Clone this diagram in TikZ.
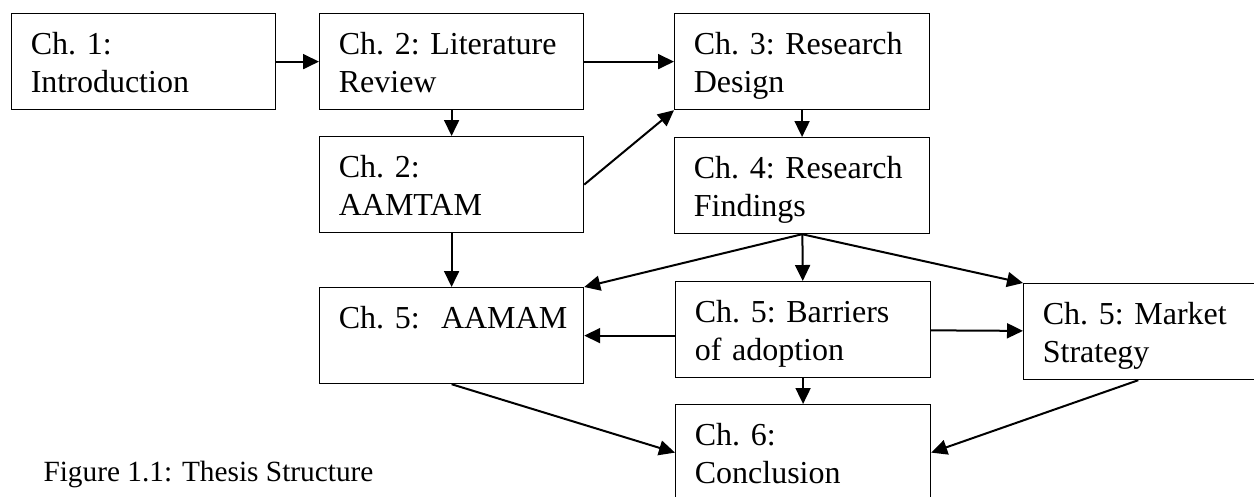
\documentclass[tikz,border=0pt]{standalone}
\usepackage{fontspec}
\setmainfont{Liberation Serif}
\usetikzlibrary{
  arrows.meta,
  calc,
  positioning,
}

\begin{document}
\begin{tikzpicture}[x=.375pt,y=-.375pt,
  font=\fontsize{12}{14.2}\selectfont\frenchspacing,
  >={Triangle[length=6pt,width=5.6pt]},
  chap/.style={draw,line width=.45pt,anchor=north west,align=left,
    inner xsep=7.2pt,inner ysep=0pt,text height=15.2pt,text depth=20.8pt},
  wide/.style={chap,text width=84.6pt},
  slim/.style={chap,text width=81.2pt},
  link/.style={->,line width=.75pt},
  capt/.style={anchor=base west,inner sep=0pt,
    font=\fontsize{11}{13}\selectfont}]
  \useasboundingbox (0,0) rectangle (1254,496);
  %%
  \node[wide](intro) at (11,13) {Ch. 1:\\Introduction};
  \node[wide](litrev) at (319,13) {Ch. 2: Literature\\Review};
  \node[wide](aamtam) at (319,136) {Ch. 2:\\AAMTAM};
  \node[slim](design) at (674,13) {Ch. 3: Research\\Design};
  \node[slim](findings) at (674,137) {Ch. 4: Research\\Findings};
  \node[wide](aamam) at (319,287) {\mbox{Ch. 5: \ AAMAM}};
  \node[slim](barriers) at (675,281) {Ch. 5: Barriers\\of adoption};
  \node[slim](market) at (1023,283) {Ch. 5: Market\\Strategy};
  \node[slim](concl) at (675,404) {Ch. 6:\\Conclusion};
  \node[capt](caption) at (43,481) {Figure 1.1: Thesis Structure};
  %%
  \draw[link] (intro) -- (litrev);
  \draw[link] (litrev) -- (design);
  \draw[link] (litrev) -- (aamtam);
  \draw[link] (aamtam.east) -- (design.south west);
  \draw[link] (design) -- (findings);
  \draw[link] (aamtam) -- (aamam);
  %%
  \draw[link] (findings.south) -- (aamam.north east);
  \draw[link] (findings) -- (barriers);
  \draw[link] (findings.south) -- (market.north west);
  \draw[link] (barriers.west |- aamam) -- (aamam);
  \draw[link] (barriers) -- (market);
  \draw[link] (barriers) -- (concl);
  \draw[link] (aamam.south) -- (concl.west);
  \draw[link] ($(market.south west)!.45!(market.south east)$) -- (concl.east);
\end{tikzpicture}
\end{document}
